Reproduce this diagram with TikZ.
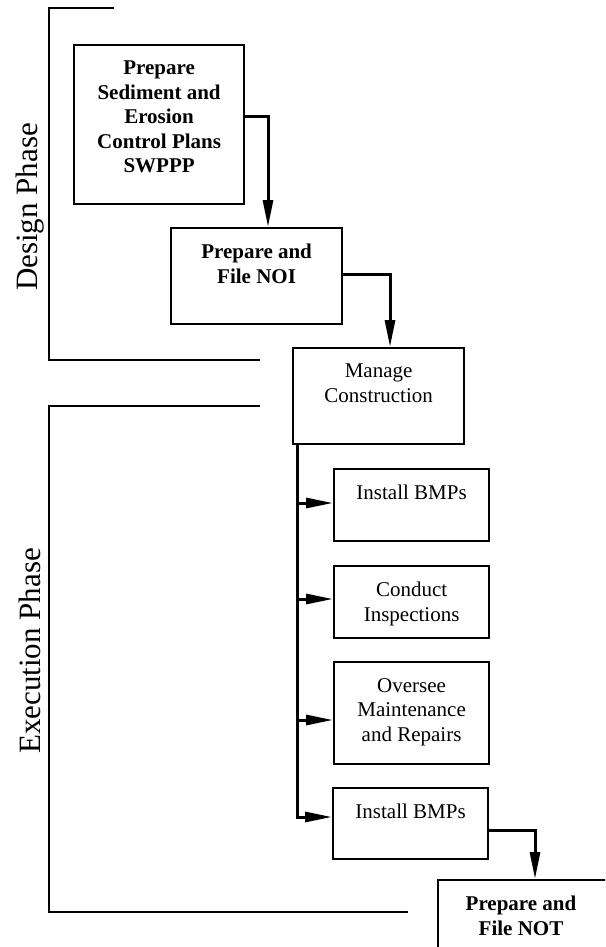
\documentclass[tikz,border=0pt]{standalone}
\usepackage{fontspec}
\setmainfont{Liberation Serif}
\usetikzlibrary{arrows.meta}
\begin{document}
\begin{tikzpicture}[x=1pt,y=-1pt,
  box/.style={draw, line width=2.2pt, anchor=north west, inner sep=0pt},
  btxt/.style={anchor=north, align=center, inner sep=0pt, font=\fontsize{21}{24.5}\selectfont},
  btxtb/.style={btxt, font=\fontsize{21}{24.5}\selectfont\bfseries},
  conn/.style={line width=3pt, -{Triangle[length=27pt,width=10pt]}},
  brk/.style={line width=2.3pt},
  phase/.style={rotate=90, font=\fontsize{31}{36}\selectfont, inner sep=0pt}]
\useasboundingbox (0,0) rectangle (605,947);
\clip (0,0) rectangle (605,947);
% phase brackets
\coordinate (d1) at (114,8);
\coordinate (d2) at (49,8);
\coordinate (d3) at (49,360);
\coordinate (d4) at (260,360);
\draw[brk] (d1) -- (d2) -- (d3) -- (d4);
\coordinate (e1) at (260,406);
\coordinate (e2) at (49,406);
\coordinate (e3) at (49,912);
\coordinate (e4) at (408,912);
\draw[brk] (e1) -- (e2) -- (e3) -- (e4);
\node[phase] (dp) at (30,207) {Design Phase};
\node[phase] (ep) at (30,651) {Execution Phase};
% boxes
\node[box, minimum width=170pt, minimum height=159pt] (b1) at (73,44) {};
\node[btxtb] (b1t) at ([yshift=-17pt]b1.north) {Prepare\\Sediment and\\Erosion\\Control Plans\\SWPPP};
\node[box, minimum width=171pt, minimum height=96pt] (b2) at (170,227) {};
\node[btxtb] (b2t) at ([yshift=-17pt]b2.north) {Prepare and\\File NOI};
\node[box, minimum width=171pt, minimum height=96pt] (mc) at (292,347) {};
\node[btxt] (mct) at ([yshift=-17pt]mc.north) {Manage\\Construction};
\node[box, minimum width=155pt, minimum height=72pt] (i1) at (333,468) {};
\node[btxt] (i1t) at ([yshift=-17pt]i1.north) {Install BMPs};
\node[box, minimum width=155pt, minimum height=72pt] (ci) at (333,565) {};
\node[btxt] (cit) at ([yshift=-17pt]ci.north) {Conduct\\Inspections};
\node[box, minimum width=155pt, minimum height=102pt] (om) at (333,661) {};
\node[btxt] (omt) at ([yshift=-17pt]om.north) {Oversee\\Maintenance\\and Repairs};
\node[box, minimum width=155pt, minimum height=71pt] (i2) at (332,787) {};
\node[btxt] (i2t) at ([yshift=-17pt]i2.north) {Install BMPs};
\node[box, minimum width=200pt, minimum height=90pt] (nt) at (437,879) {};
\node[btxtb] (ntt) at ([yshift=-17pt]nt.north -| 521,0) {Prepare and\\File NOT};
% connectors
\draw[conn] (b1.east |- 0,117) -| (b2.north -| 268,0);
\draw[conn] (b2.east |- 0,274) -| (mc.north -| 390,0);
\draw[conn] ([xshift=5pt]mc.south west) |- (i1.west |- 0,503);
\draw[conn] ([xshift=5pt]mc.south west) |- (ci.west |- 0,599);
\draw[conn] ([xshift=5pt]mc.south west) |- (om.west |- 0,720);
\draw[conn] ([xshift=5pt]mc.south west) |- (i2.west |- 0,817);
\draw[conn] (i2.east |- 0,830) -| (nt.north -| 535,0);
\end{tikzpicture}
\end{document}
